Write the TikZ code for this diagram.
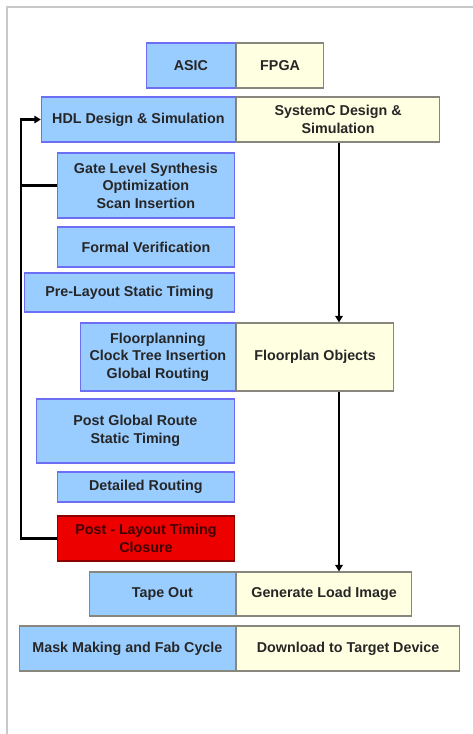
\documentclass[tikz,border=0pt]{standalone}
\usepackage{fontspec}
\setmainfont{Liberation Sans}
\usetikzlibrary{arrows.meta}
\definecolor{asicblue}{RGB}{153,204,255}
\definecolor{asicline}{RGB}{110,110,245}
\definecolor{fpgayellow}{RGB}{255,255,226}
\definecolor{fpgaline}{RGB}{135,135,125}
\definecolor{closered}{RGB}{236,0,0}
\definecolor{frame}{RGB}{200,200,200}

\begin{document}
\begin{tikzpicture}[x=1pt, y=-1pt,
	font=\fontsize{14.3}{17.5}\selectfont\bfseries,
	asic/.style={draw=asicline, line width=1.2pt, fill=asicblue, text=black!85,
		align=center, inner sep=0pt, anchor=east},
	fpga/.style={draw=fpgaline, line width=1.2pt, fill=fpgayellow, text=black!85,
		align=center, inner sep=0pt, anchor=west},
	flow/.style={line width=2.3pt, -{Triangle[length=6.5pt,width=7.5pt]}},
	loop/.style={line width=2.3pt}]
	\useasboundingbox (0,0) rectangle (473,734);
	%frame
	\draw[frame, line width=2pt] (7,734) -- (7,7) -- (473,7);
	%boxes
	\node[asic, minimum width=89pt, minimum height=45pt] (asic) at (236,65.5) {ASIC};
	\node[fpga, minimum width=87pt, minimum height=45pt] (fpga) at (236,65.5) {FPGA};
	\node[asic, minimum width=194pt, minimum height=45pt] (hdl) at (236,119.5) {HDL Design \& Simulation};
	\node[fpga, minimum width=203pt, minimum height=45pt] (sysc) at (236,119.5) {SystemC Design \&\\Simulation};
	\node[asic, minimum width=177pt, minimum height=65pt] (gate) at (235,185.5) {Gate Level Synthesis\\Optimization\\Scan Insertion};
	\node[asic, minimum width=177pt, minimum height=40pt] (formal) at (235,247) {Formal Verification};
	\node[asic, minimum width=210pt, minimum height=39pt] (pre) at (235,292.5) {Pre-Layout Static Timing};
	\node[asic, minimum width=155pt, minimum height=68pt] (floor) at (236,357) {Floorplanning\\Clock Tree Insertion\\Global Routing};
	\node[fpga, minimum width=157pt, minimum height=68pt] (fpobj) at (236,357) {Floorplan Objects};
	\node[asic, minimum width=198pt, minimum height=64pt] (pgr) at (235,431) {Post Global Route\\Static Timing};
	\node[asic, minimum width=177pt, minimum height=30pt] (detail) at (235,487) {Detailed Routing};
	\node[asic, draw=red!55!black, fill=closered, text=red!25!black, minimum width=177pt, minimum height=45pt] (post) at (235,538.5) {Post - Layout Timing\\Closure};
	\node[asic, draw=fpgaline, minimum width=146pt, minimum height=44pt] (tape) at (236,594) {Tape Out};
	\node[fpga, minimum width=175pt, minimum height=44pt] (gen) at (236,594) {Generate Load Image};
	\node[asic, draw=fpgaline, minimum width=216pt, minimum height=45pt] (mask) at (236,648.5) {Mask Making and Fab Cycle};
	\node[fpga, minimum width=223pt, minimum height=45pt] (down) at (236,648.5) {Download to Target Device};
	%arrows
	\coordinate (spine) at (339,0);
	\coordinate (back) at (21,119.5);
	\draw[flow] (sysc.south -| spine) -- (fpobj.north -| spine);
	\draw[flow] (fpobj.south -| spine) -- (gen.north -| spine);
	\draw[flow] (post.west) -| (back) -- (hdl.west);
	\draw[loop] (gate.west) -- (gate.west -| back);
\end{tikzpicture}
\end{document}
